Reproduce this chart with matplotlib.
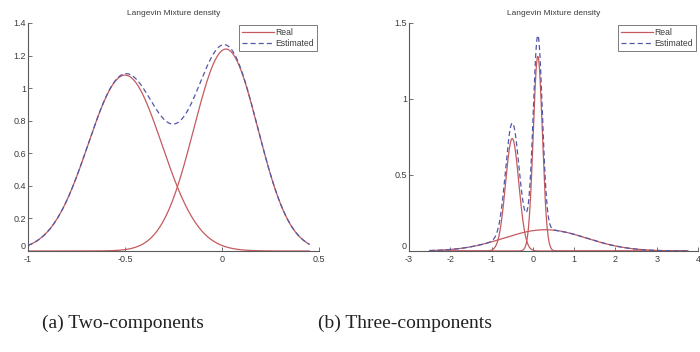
import numpy as np
import matplotlib
matplotlib.use("Agg")
import matplotlib.pyplot as plt
from matplotlib.ticker import FixedLocator, FuncFormatter

# Mixture components: (centre, spread, peak height)
two_centres = [-0.50, 0.02]
two_spreads = [0.19, 0.165]
two_peaks = [1.08, 1.24]
two_range = (-1.0, 0.45)

three_centres = [-0.50, 0.12, 0.30]
three_spreads = [0.16, 0.11, 1.0]
three_peaks = [0.74, 1.28, 0.14]
three_range = (-2.5, 3.75)

two_xticks = [-1, -0.5, 0, 0.5]
two_yticks = [0, 0.2, 0.4, 0.6, 0.8, 1.0, 1.2, 1.4]
three_xticks = [-3, -2, -1, 0, 1, 2, 3, 4]
three_yticks = [0, 0.5, 1.0, 1.5]

captions = ["(a) Two-components", "(b) Three-components"]
title = "Langevin Mixture density"

RED = "#c65a5e"
BLUE = "#5258a8"
SPINE = "#5a5a5a"
TXT = "#3c3c3c"


def component(x, c, s, h):
    return h * np.exp(-(x - c) ** 2 / (2 * s ** 2))


def fmt(v, _pos):
    return f"{v:g}"


def draw(ax, centres, spreads, peaks, xr, xlim, ylim, xticks, yticks):
    x = np.linspace(xr[0], xr[1], 800)
    total = np.zeros_like(x)
    for i, (c, s, h) in enumerate(zip(centres, spreads, peaks)):
        y = component(x, c, s, h)
        total += y
        ax.plot(x, y, color=RED, lw=0.9, label="Real" if i == 0 else None)
    ax.plot(x, total, color=BLUE, lw=0.9, ls=(0, (4, 2.5)), label="Estimated")
    ax.set_xlim(*xlim)
    ax.set_ylim(*ylim)
    ax.xaxis.set_major_locator(FixedLocator(xticks))
    ax.yaxis.set_major_locator(FixedLocator(yticks))
    ax.xaxis.set_major_formatter(FuncFormatter(fmt))
    ax.yaxis.set_major_formatter(FuncFormatter(fmt))
    for side in ("top", "right"):
        ax.spines[side].set_visible(False)
    for side in ("left", "bottom"):
        ax.spines[side].set_color(SPINE)
        ax.spines[side].set_linewidth(0.8)
    ax.tick_params(direction="in", length=3, width=0.6, colors=SPINE,
                   labelsize=6.5, labelcolor=TXT)
    ax.tick_params(axis="x", pad=3.2)
    ax.tick_params(axis="y", pad=1.5)
    # lift the zero label on the y axis a little so it clears the x labels
    ylab = ax.get_yticklabels()
    ylab[0].set_verticalalignment("bottom")
    ax.set_title(title, fontsize=6, color=TXT, pad=6)
    leg = ax.legend(loc="upper right", fontsize=6.2, frameon=True, fancybox=False,
                    handlelength=3.7, handletextpad=0.2, borderpad=0.35,
                    labelspacing=0.25, borderaxespad=0.2)
    leg.get_frame().set_edgecolor(SPINE)
    leg.get_frame().set_linewidth(0.7)
    for t in leg.get_texts():
        t.set_color(TXT)


plt.rcParams["font.family"] = ["Liberation Sans", "DejaVu Sans"]
fig = plt.figure(figsize=(7.0, 3.52), dpi=100)

ax1 = fig.add_axes([28 / 700, 1 - 251 / 352, (319 - 28) / 700, (251 - 23) / 352])
draw(ax1, two_centres, two_spreads, two_peaks, two_range,
     (-1, 0.5), (0, 1.4), two_xticks, two_yticks)

ax2 = fig.add_axes([409 / 700, 1 - 251 / 352, (698 - 409) / 700, (251 - 23) / 352])
draw(ax2, three_centres, three_spreads, three_peaks, three_range,
     (-3, 4), (0, 1.5), three_xticks, three_yticks)

fig.text(123 / 700, 1 - 323 / 352, captions[0], ha="center", va="center",
         fontsize=14, family="Liberation Serif", color="#222222")
fig.text(405 / 700, 1 - 323 / 352, captions[1], ha="center", va="center",
         fontsize=14, family="Liberation Serif", color="#222222")

fig.savefig("out.png", dpi=100, facecolor="white")
